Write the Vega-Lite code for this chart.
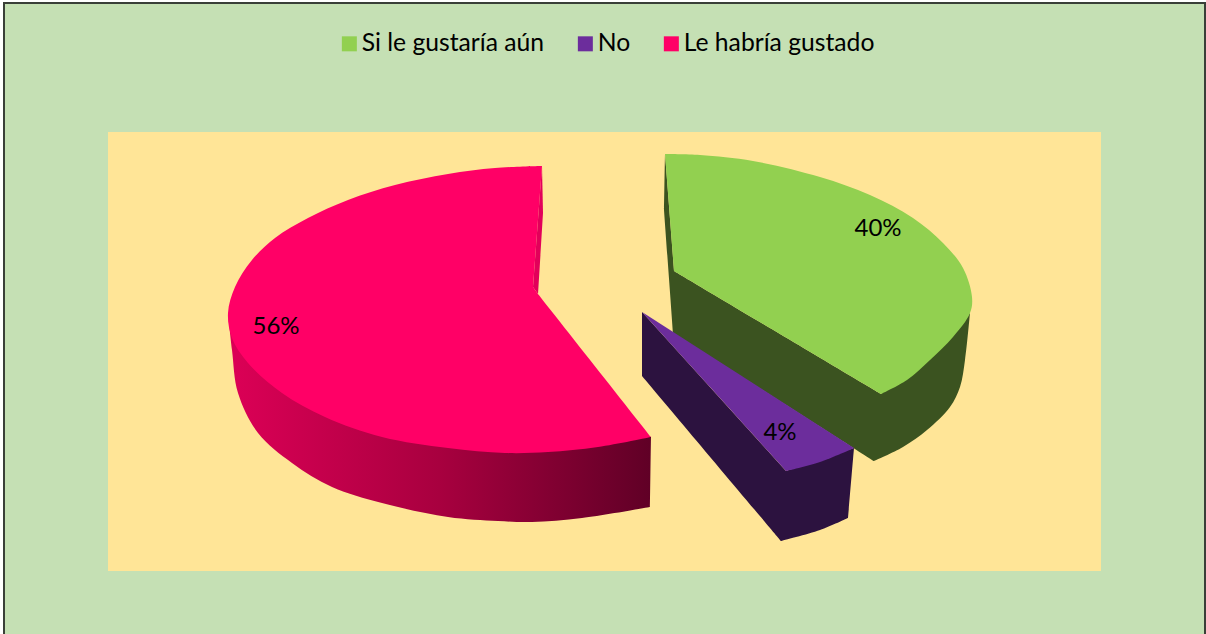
{"$schema":"https://vega.github.io/schema/vega-lite/v6.json","width":1206,"height":634,"padding":0,"autosize":{"type":"fit","contains":"padding"},"background":"#ffffff","config":{"view":{"stroke":null}},
"datasets":{"boxes":[{"part":"frame","x":4,"x2":1205,"y":3,"y2":660},{"part":"panel","x":108,"x2":1101,"y":132,"y2":571}],
"labels":[{"series":"Si le gustaría aún","share":"40%","x":878,"y":229},{"series":"No","share":"4%","x":780,"y":433},{"series":"Le habría gustado","share":"56%","x":276,"y":327}],
"shapes":[
{"part":"redSide","i":1,"x":228,"y":313},{"part":"redSide","i":2,"x":232,"y":350},{"part":"redSide","i":3,"x":238,"y":393},{"part":"redSide","i":4,"x":258,"y":433},{"part":"redSide","i":5,"x":292,"y":463},{"part":"redSide","i":6,"x":332,"y":487},{"part":"redSide","i":7,"x":382,"y":503},{"part":"redSide","i":8,"x":448,"y":517},{"part":"redSide","i":9,"x":498,"y":521},{"part":"redSide","i":10,"x":532,"y":522},{"part":"redSide","i":11,"x":582,"y":518},{"part":"redSide","i":12,"x":650,"y":507},{"part":"redSide","i":13,"x":650,"y":507},{"part":"redSide","i":14,"x":651,"y":437},{"part":"redSide","i":15,"x":651,"y":437},
{"part":"redSliver","i":1,"x":542,"y":166},{"part":"redSliver","i":2,"x":542,"y":166},{"part":"redSliver","i":3,"x":543,"y":213},{"part":"redSliver","i":4,"x":543,"y":213},{"part":"redSliver","i":5,"x":538,"y":294},{"part":"redSliver","i":6,"x":538,"y":294},{"part":"redSliver","i":7,"x":533,"y":287},
{"part":"top","series":"Le habría gustado","i":1,"x":542,"y":166},{"part":"top","series":"Le habría gustado","i":2,"x":495,"y":168},{"part":"top","series":"Le habría gustado","i":3,"x":448,"y":174},{"part":"top","series":"Le habría gustado","i":4,"x":395,"y":185},{"part":"top","series":"Le habría gustado","i":5,"x":348,"y":200},{"part":"top","series":"Le habría gustado","i":6,"x":308,"y":218},{"part":"top","series":"Le habría gustado","i":7,"x":275,"y":238},{"part":"top","series":"Le habría gustado","i":8,"x":252,"y":260},{"part":"top","series":"Le habría gustado","i":9,"x":235,"y":287},{"part":"top","series":"Le habría gustado","i":10,"x":228,"y":313},{"part":"top","series":"Le habría gustado","i":11,"x":232,"y":338},{"part":"top","series":"Le habría gustado","i":12,"x":248,"y":363},{"part":"top","series":"Le habría gustado","i":13,"x":282,"y":393},{"part":"top","series":"Le habría gustado","i":14,"x":325,"y":417},{"part":"top","series":"Le habría gustado","i":15,"x":382,"y":437},{"part":"top","series":"Le habría gustado","i":16,"x":448,"y":448},{"part":"top","series":"Le habría gustado","i":17,"x":505,"y":453},{"part":"top","series":"Le habría gustado","i":18,"x":548,"y":452},{"part":"top","series":"Le habría gustado","i":19,"x":598,"y":447},{"part":"top","series":"Le habría gustado","i":20,"x":651,"y":437},{"part":"top","series":"Le habría gustado","i":21,"x":651,"y":437},{"part":"top","series":"Le habría gustado","i":22,"x":538,"y":294},{"part":"top","series":"Le habría gustado","i":23,"x":538,"y":294},{"part":"top","series":"Le habría gustado","i":24,"x":533,"y":287},
{"part":"greenSide","i":1,"x":665,"y":154},{"part":"greenSide","i":2,"x":665,"y":154},{"part":"greenSide","i":3,"x":664,"y":210},{"part":"greenSide","i":4,"x":664,"y":210},{"part":"greenSide","i":5,"x":673,"y":333},{"part":"greenSide","i":6,"x":673,"y":333},{"part":"greenSide","i":7,"x":874,"y":461},{"part":"greenSide","i":8,"x":874,"y":461},{"part":"greenSide","i":9,"x":903,"y":447},{"part":"greenSide","i":10,"x":927,"y":430},{"part":"greenSide","i":11,"x":950,"y":407},{"part":"greenSide","i":12,"x":960,"y":387},{"part":"greenSide","i":13,"x":965,"y":360},{"part":"greenSide","i":14,"x":970,"y":313},{"part":"greenSide","i":15,"x":970,"y":313},{"part":"greenSide","i":16,"x":881,"y":394},{"part":"greenSide","i":17,"x":881,"y":394},{"part":"greenSide","i":18,"x":674,"y":271},
{"part":"top","series":"Si le gustaría aún","i":1,"x":665,"y":154},{"part":"top","series":"Si le gustaría aún","i":2,"x":700,"y":155},{"part":"top","series":"Si le gustaría aún","i":3,"x":753,"y":161},{"part":"top","series":"Si le gustaría aún","i":4,"x":820,"y":177},{"part":"top","series":"Si le gustaría aún","i":5,"x":870,"y":195},{"part":"top","series":"Si le gustaría aún","i":6,"x":913,"y":218},{"part":"top","series":"Si le gustaría aún","i":7,"x":943,"y":243},{"part":"top","series":"Si le gustaría aún","i":8,"x":963,"y":268},{"part":"top","series":"Si le gustaría aún","i":9,"x":972,"y":297},{"part":"top","series":"Si le gustaría aún","i":10,"x":970,"y":313},{"part":"top","series":"Si le gustaría aún","i":11,"x":953,"y":337},{"part":"top","series":"Si le gustaría aún","i":12,"x":930,"y":360},{"part":"top","series":"Si le gustaría aún","i":13,"x":907,"y":380},{"part":"top","series":"Si le gustaría aún","i":14,"x":881,"y":394},{"part":"top","series":"Si le gustaría aún","i":15,"x":881,"y":394},{"part":"top","series":"Si le gustaría aún","i":16,"x":674,"y":271},
{"part":"purpleSide","i":1,"x":642,"y":312},{"part":"purpleSide","i":2,"x":642,"y":312},{"part":"purpleSide","i":3,"x":642,"y":376},{"part":"purpleSide","i":4,"x":642,"y":376},{"part":"purpleSide","i":5,"x":781,"y":541},{"part":"purpleSide","i":6,"x":781,"y":541},{"part":"purpleSide","i":7,"x":820,"y":530},{"part":"purpleSide","i":8,"x":848,"y":518},{"part":"purpleSide","i":9,"x":848,"y":518},{"part":"purpleSide","i":10,"x":854,"y":448},{"part":"purpleSide","i":11,"x":854,"y":448},{"part":"purpleSide","i":12,"x":786,"y":471},
{"part":"top","series":"No","i":1,"x":642,"y":312},{"part":"top","series":"No","i":2,"x":642,"y":312},{"part":"top","series":"No","i":3,"x":786,"y":471},{"part":"top","series":"No","i":4,"x":786,"y":471},{"part":"top","series":"No","i":5,"x":820,"y":462},{"part":"top","series":"No","i":6,"x":854,"y":448}
]},
"encoding":{"x":{"field":"x","type":"quantitative","axis":null,"scale":{"domain":[0,1206],"nice":false,"zero":false}},"y":{"field":"y","type":"quantitative","axis":null,"scale":{"domain":[634,0],"nice":false,"zero":false}}},
"layer":[
{"data":{"name":"boxes"},"transform":[{"filter":"datum.part==='frame'"}],"mark":{"type":"rect","clip":true,"fill":"#C5E0B4","stroke":"#3a3f38","strokeWidth":2},"encoding":{"x2":{"field":"x2"},"y2":{"field":"y2"}}},
{"data":{"name":"boxes"},"transform":[{"filter":"datum.part==='panel'"}],"mark":{"type":"rect","fill":"#FFE597","strokeWidth":0},"encoding":{"x2":{"field":"x2"},"y2":{"field":"y2"}}},
{"data":{"name":"shapes"},"transform":[{"filter":"datum.part==='redSide'"}],"mark":{"type":"line","interpolate":"catmull-rom","strokeWidth":0,"fill":{"gradient":"linear","x1":0,"x2":1,"y1":0,"y2":0,"stops":[{"offset":0,"color":"#DC0056"},{"offset":0.5,"color":"#A8003F"},{"offset":1,"color":"#600026"}]}},"encoding":{"order":{"field":"i","type":"quantitative"}}},
{"data":{"name":"shapes"},"transform":[{"filter":"datum.part==='redSliver'"}],"mark":{"type":"line","strokeWidth":0,"fill":"#E2005A"},"encoding":{"order":{"field":"i","type":"quantitative"}}},
{"data":{"name":"shapes"},"transform":[{"filter":"datum.part==='greenSide'"}],"mark":{"type":"line","interpolate":"catmull-rom","strokeWidth":0,"fill":"#3B5320"},"encoding":{"order":{"field":"i","type":"quantitative"}}},
{"data":{"name":"shapes"},"transform":[{"filter":"datum.part==='purpleSide'"}],"mark":{"type":"line","interpolate":"catmull-rom","strokeWidth":0,"fill":"#2C123F"},"encoding":{"order":{"field":"i","type":"quantitative"}}},
{"data":{"name":"shapes"},"transform":[{"filter":"datum.part==='top'"}],"mark":{"type":"line","interpolate":"catmull-rom","strokeWidth":0},"encoding":{"order":{"field":"i","type":"quantitative"},"fill":{"field":"series","type":"nominal","scale":{"domain":["Si le gustaría aún","No","Le habría gustado"],"range":["#92D050","#6C2D9C","#FF0066"]},"legend":{"title":null,"orient":"none","legendX":337,"legendY":31,"direction":"horizontal","columns":3,"symbolType":"square","symbolSize":225,"symbolStrokeWidth":0,"labelFont":"Lato","labelFontSize":24.7,"labelColor":"#000000","labelOffset":0,"columnPadding":28,"labelLimit":300}}}},
{"data":{"name":"labels"},"mark":{"type":"text","font":"Lato","fontSize":24,"color":"#000000","align":"center","baseline":"middle"},"encoding":{"text":{"field":"share"}}}
]}
